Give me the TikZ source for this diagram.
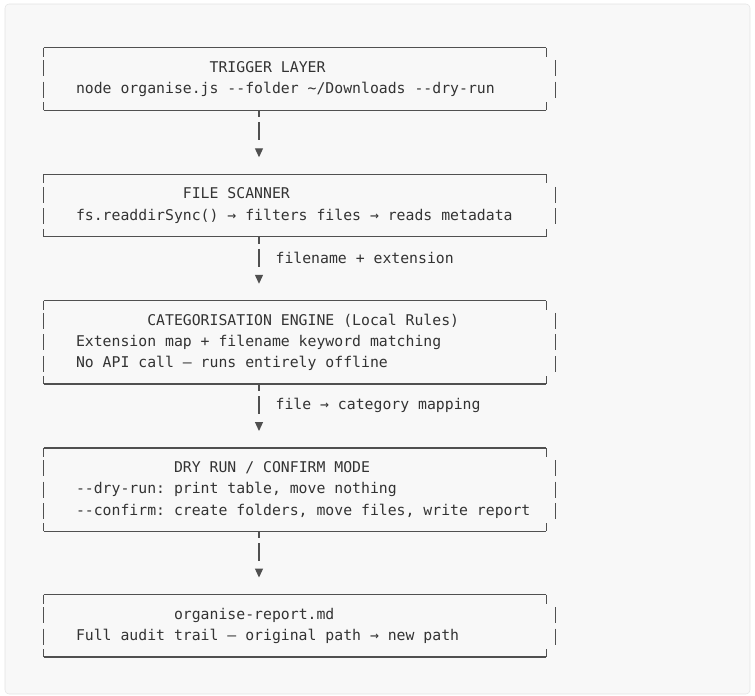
\documentclass[tikz,border=0pt]{standalone}
\usepackage{fontspec}
\setmonofont{DejaVu Sans Mono}
\usepackage{tikz}
\usetikzlibrary{positioning, arrows.meta, calc}
\definecolor{panelgray}{RGB}{248,248,248}
\definecolor{panelline}{RGB}{228,228,228}
\definecolor{inkgray}{RGB}{80,80,80}
\definecolor{textgray}{RGB}{51,51,51}

\newcommand{\asciitext}{\ttfamily\fontsize{11.1}{16.1}\selectfont}
\newcommand{\pad}[1]{\hspace*{#1\fontcharwd\font`M}}
% one line of the box text, with full-width spaces
\newcommand{\tline}[1]{\mbox{\spaceskip=0pt\xspaceskip=0pt#1}}
% box outline in the look of box-drawing characters, 24pt left of the text
\newcommand{\asciiframe}[2]{%
  \draw[rule] ([xshift=-24pt]#1.north west) -- (#1.north east);
  \draw[rule] ([xshift=-24pt]#1.south west) -- (#1.south east);
  \draw[rule] ([xshift=-24pt]#1.north west) -- ++(0,-6.75pt);
  \draw[rule] (#1.north east) -- ++(0,-6.75pt);
  \draw[rule] ([xshift=-24pt]#1.south west) -- ++(0,6pt);
  \draw[rule] (#1.south east) -- ++(0,6pt);
  \foreach \r in {1,...,#2}{
    \draw[rule] ($(#1.west)+(-24pt,{((#2+1)/2-\r)*16.1pt+6pt})$) -- ++(0,-12pt);
    \draw[rule] ($(#1.east)+(6.75pt,{((#2+1)/2-\r)*16.1pt+6pt})$) -- ++(0,-12pt);
  }}

\begin{document}
\begin{tikzpicture}[
    x=0.75pt, y=0.75pt,
    box/.style={rectangle, minimum height=46.5pt, text width=352.5pt, inner xsep=0pt, inner ysep=0pt, align=left, font=\asciitext, text=textgray},
    tallbox/.style={box, minimum height=62pt},
    rule/.style={draw=inkgray, line width=0.9pt},
    flow/.style={draw=inkgray, line width=0.9pt, dash pattern=on 5.25pt off 3.75pt on 13.5pt off 30pt, -{Triangle[width=6pt,length=6.75pt]}, shorten >=12.75pt},
    lbl/.style={anchor=west, xshift=12pt, inner sep=0pt, font=\asciitext, text=textgray}
]
\useasboundingbox (0,0) rectangle (755,-695);
\draw[panelline, fill=panelgray, rounded corners=3pt] (5,-4) rectangle (750,-694);

\node[box] (trigger) at (311,-79) {\tline{\pad{15}TRIGGER LAYER}\\\tline{node organise.js --folder \textasciitilde/Downloads --dry-run}};
\node[box, below=48pt of trigger] (scanner) {\tline{\pad{12}FILE SCANNER}\\\tline{fs.readdirSync() → filters files → reads metadata}};
\node[tallbox, below=48pt of scanner] (engine) {\tline{\pad{8}CATEGORISATION ENGINE (Local Rules)}\\\tline{Extension map + filename keyword matching}\\\tline{No API call — runs entirely offline}};
\node[tallbox, below=48pt of engine] (mode) {\tline{\pad{11}DRY RUN / CONFIRM MODE}\\\tline{--dry-run: print table, move nothing}\\\tline{--confirm: create folders, move files, write report}};
\node[box, below=47.5pt of mode] (report) {\tline{\pad{11}organise-report.md}\\\tline{Full audit trail — original path → new path}};

\asciiframe{trigger}{2}
\asciiframe{scanner}{2}
\asciiframe{engine}{3}
\asciiframe{mode}{3}
\asciiframe{report}{2}

\draw[flow] ([xshift=-39pt]trigger.south) -- ([xshift=-39pt]scanner.north);
\draw[flow] ([xshift=-39pt]scanner.south) -- node[pos=0.33, lbl] {filename + extension} ([xshift=-39pt]engine.north);
\draw[flow] ([xshift=-39pt]engine.south) -- node[pos=0.33, lbl] {file → category mapping} ([xshift=-39pt]mode.north);
\draw[flow] ([xshift=-39pt]mode.south) -- ([xshift=-39pt]report.north);

\end{tikzpicture}
\end{document}
